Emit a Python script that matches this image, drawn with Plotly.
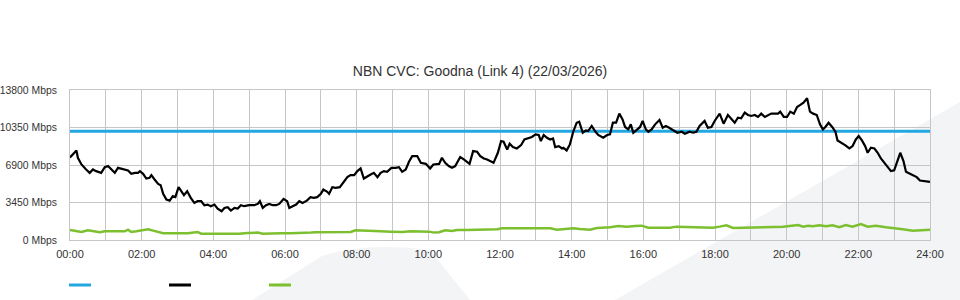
import plotly.graph_objects as go

# ---- data ----
title_text = "NBN CVC: Goodna (Link 4) (22/03/2026)"
y_tick_vals = [0, 3450, 6900, 10350, 13800]
y_tick_text = ["0 Mbps", "3450 Mbps", "6900 Mbps", "10350 Mbps", "13800 Mbps"]
x_tick_vals = list(range(0, 25, 2))
x_tick_text = ["00:00", "02:00", "04:00", "06:00", "08:00", "10:00", "12:00",
               "14:00", "16:00", "18:00", "20:00", "22:00", "24:00"]

capacity_hours = [0, 24]
capacity_mbps = [10000, 10000]

traffic_hours = [
    0.00, 0.18, 0.22, 0.32, 0.45, 0.55, 0.64, 0.73, 0.87, 0.97, 1.06, 1.15, 1.25, 1.34,
    1.48, 1.62, 1.71, 1.81, 1.90, 1.95, 2.04, 2.13, 2.22, 2.27, 2.36, 2.46, 2.53, 2.60,
    2.69, 2.78, 2.87, 2.94, 3.03, 3.11, 3.18, 3.27, 3.37, 3.47, 3.56, 3.66, 3.75, 3.84,
    3.93, 4.03, 4.12, 4.23, 4.31, 4.40, 4.49, 4.59, 4.68, 4.77, 4.86, 5.00, 5.14, 5.24,
    5.30, 5.38, 5.47, 5.56, 5.66, 5.75, 5.84, 5.96, 6.06, 6.12, 6.21, 6.31, 6.40, 6.49,
    6.61, 6.71, 6.80, 6.90, 7.00, 7.07, 7.18, 7.23, 7.32, 7.41, 7.53, 7.65, 7.74, 7.83,
    7.93, 8.02, 8.11, 8.20, 8.30, 8.39, 8.48, 8.58, 8.67, 8.76, 8.85, 8.97, 9.09, 9.18,
    9.27, 9.37, 9.46, 9.55, 9.69, 9.79, 9.93, 10.05, 10.14, 10.23, 10.30, 10.38, 10.47,
    10.57, 10.66, 10.75, 10.89, 10.99, 11.10, 11.15, 11.25, 11.36, 11.45, 11.55, 11.64,
    11.73, 11.82, 11.94, 12.03, 12.10, 12.20, 12.27, 12.36, 12.47, 12.59, 12.68, 12.80,
    12.89, 12.99, 13.08, 13.14, 13.22, 13.31, 13.40, 13.48, 13.54, 13.64, 13.73, 13.77,
    13.86, 13.95, 14.05, 14.14, 14.21, 14.31, 14.40, 14.46, 14.56, 14.65, 14.74, 14.88,
    14.99, 15.07, 15.15, 15.24, 15.33, 15.42, 15.49, 15.58, 15.65, 15.72, 15.83, 15.91,
    15.98, 16.07, 16.14, 16.23, 16.33, 16.45, 16.54, 16.63, 16.72, 16.84, 16.95, 17.07,
    17.16, 17.29, 17.39, 17.48, 17.57, 17.71, 17.80, 17.90, 17.99, 18.13, 18.24, 18.36,
    18.45, 18.55, 18.64, 18.73, 18.83, 18.92, 19.01, 19.11, 19.20, 19.29, 19.39, 19.48,
    19.57, 19.67, 19.76, 19.82, 19.92, 20.01, 20.10, 20.20, 20.29, 20.38, 20.47, 20.57,
    20.65, 20.74, 20.84, 20.93, 21.01, 21.08, 21.17, 21.27, 21.36, 21.42, 21.54, 21.63,
    21.75, 21.84, 21.93, 22.01, 22.10, 22.19, 22.26, 22.35, 22.45, 22.54, 22.63, 22.72,
    22.82, 22.91, 23.00, 23.10, 23.17, 23.26, 23.33, 23.44, 23.54, 23.63, 23.72, 23.82,
    23.91, 24.00]
traffic_mbps = [
    7600, 8240, 7565, 6950, 6490, 6180, 6490, 6335, 6180, 6705, 6800, 6490, 6180, 6640,
    6490, 6400, 6090, 6180, 6180, 6335, 6090, 5655, 5720, 5965, 5565, 5165, 5045, 4245,
    3720, 3625, 4030, 3940, 4860, 4490, 4120, 4490, 3875, 3413, 3570, 3570, 3200, 3260,
    3110, 3260, 2890, 2645, 2950, 3015, 2705, 2950, 2890, 3200, 3110, 3200, 3200, 3320,
    3570, 2950, 3200, 3320, 3200, 3200, 3320, 3780, 3570, 2950, 3075, 3260, 3570, 3413,
    3625, 3940, 3875, 3940, 4245, 4640, 4430, 4245, 4860, 4800, 4860, 5350, 5785, 5965,
    5965, 6335, 6580, 5655, 5875, 6025, 6180, 5785, 6180, 6335, 6270, 6640, 6640, 6705,
    6270, 6490, 7195, 7720, 7720, 7100, 7010, 6580, 6950, 6950, 7000, 7565, 7100,
    6800, 6640, 6800, 7630, 7410, 7100, 7000, 8180, 8120, 7720, 7500, 7410,
    7260, 7100, 8025, 9105, 9040, 8330, 8855, 8550, 8420, 8735, 9250, 9410,
    9475, 9715, 9660, 9105, 9660, 9410, 9250, 9345, 8550, 8640, 8420, 8490,
    8240, 8795, 10025, 10790, 10885, 9870, 10085, 10025, 10490, 10025, 9660, 9410,
    9660, 9715, 10790, 10790, 11625, 11100, 10400, 10175, 10640, 9870, 10175, 10400,
    10950, 10175, 9960, 10175, 10640, 11040, 10330, 10490, 10330, 10085, 9870, 9960,
    9780, 9960, 9870, 9960, 10490, 10950, 10330, 10400, 10950, 11625, 10700, 11500,
    11190, 10790, 11255, 11190, 11715, 11500, 11410, 11500, 11320, 11625, 11320, 11500,
    11625, 11625, 11625, 11810, 11320, 11320, 11810, 11625, 12240, 12425, 12640, 13035,
    11810, 11625, 11500, 10640, 10175, 10400, 10790, 10400, 9960, 9160, 8950, 8735,
    8420, 8640, 9250, 9565, 9160, 8640, 8025, 8490, 8420, 8025, 7500, 7100,
    6640, 6335, 6400, 7315, 8025, 7260, 6270, 6090, 5965, 5785, 5470, 5410,
    5410, 5350]

upload_hours = [
    0.00, 0.13, 0.32, 0.50, 0.69, 0.83, 0.97, 1.15, 1.34, 1.53, 1.62, 1.71, 1.85, 1.99,
    2.18, 2.32, 2.46, 2.60, 2.73, 3.01, 3.29, 3.56, 3.66, 3.93, 4.21, 4.40, 4.59, 4.72,
    4.96, 5.24, 5.38, 5.61, 5.89, 6.17, 6.35, 6.54, 6.73, 6.87, 7.09, 7.37, 7.65, 7.83,
    7.97, 8.11, 8.39, 8.67, 8.95, 9.18, 9.27, 9.51, 9.79, 10.02, 10.16, 10.30, 10.38,
    10.47, 10.66, 10.80, 11.08, 11.36, 11.64, 11.92, 12.06, 12.38, 12.66, 12.94, 13.08,
    13.40, 13.59, 13.81, 14.05, 14.23, 14.51, 14.70, 14.93, 15.07, 15.30, 15.54, 15.77,
    15.95, 16.14, 16.47, 16.74, 16.93, 17.16, 17.39, 17.66, 17.94, 18.13, 18.32, 18.50,
    18.78, 19.06, 19.34, 19.62, 19.90, 20.08, 20.32, 20.46, 20.60, 20.73, 20.91, 21.10,
    21.28, 21.47, 21.65, 21.84, 22.07, 22.26, 22.49, 22.77, 23.00, 23.24, 23.52, 23.75,
    24.00]
upload_mbps = [
    920, 860, 740, 890, 800, 710, 800, 800, 800, 800, 950, 740, 800, 860,
    985, 860, 740, 615, 615, 615, 615, 740, 585, 585, 585, 555, 555, 585,
    645, 680, 585, 615, 615, 615, 615, 680, 680, 710, 710, 740, 710, 740,
    890, 860, 800, 800, 770, 710, 740, 800, 800, 770, 680, 710, 800,
    890, 830, 920, 920, 950, 985, 985, 1075, 1075, 1015, 1015, 1075,
    1075, 950, 985, 1075, 1015, 950, 1105, 1105, 1170, 1290, 1230, 1290,
    1320, 1135, 1105, 1135, 1230, 1200, 1170, 1170, 1135, 1230, 1355, 1105,
    1135, 1105, 1170, 1230, 1230, 1290, 1385, 1230, 1320, 1260, 1355, 1260,
    1355, 1170, 1385, 1230, 1475, 1230, 1320, 1170, 1105, 985, 860, 920,
    950]

# ---- styling ----
BLUE = "#22a7e0"
BLACK = "#000000"
GREEN = "#7cbf2f"
GRID = "#c6c6c6"
TEXT = "#333333"
FONT = "Liberation Sans, Arial, sans-serif"

W, H = 960, 300
ML, MR, MT, MB = 70, 30, 90, 60
PW, PH = W - ML - MR, H - MT - MB


def px_to_paper(px, py):
    return (px - ML) / PW, (H - MB - py) / PH


fig = go.Figure()
fig.add_trace(go.Scatter(x=capacity_hours, y=capacity_mbps, mode="lines",
                         line=dict(color=BLUE, width=3), hoverinfo="skip"))
fig.add_trace(go.Scatter(x=upload_hours, y=upload_mbps, mode="lines",
                         line=dict(color=GREEN, width=2.5)))
fig.add_trace(go.Scatter(x=traffic_hours, y=traffic_mbps, mode="lines",
                         line=dict(color=BLACK, width=2.2)))

shapes = []
# faint watermark shapes in the background
x0, y0 = px_to_paper(615, 300)
x1, y1 = px_to_paper(960, 102)
x2, y2 = px_to_paper(960, 300)
shapes.append(dict(type="path", xref="paper", yref="paper", layer="below",
                   path=f"M {x0},{y0} L {x1},{y1} L {x2},{y2} Z",
                   fillcolor="#f3f4f6", line=dict(width=0)))
a = px_to_paper(252, 300)
b = px_to_paper(322, 256)
c = px_to_paper(365, 242)
d = px_to_paper(430, 250)
e = px_to_paper(470, 300)
shapes.append(dict(type="path", xref="paper", yref="paper", layer="below",
                   path=f"M {a[0]},{a[1]} L {b[0]},{b[1]} Q {c[0]},{c[1]} {d[0]},{d[1]} L {e[0]},{e[1]} Z",
                   fillcolor="#f3f4f6", line=dict(width=0)))
# legend swatches (no labels in the reference)
for colr, lx in [(BLUE, 69), (BLACK, 169), (GREEN, 269)]:
    sx0, sy = px_to_paper(lx, 285)
    sx1, _ = px_to_paper(lx + 22, 285)
    shapes.append(dict(type="line", xref="paper", yref="paper",
                       x0=sx0, x1=sx1, y0=sy, y1=sy,
                       line=dict(color=colr, width=3)))

fig.update_layout(
    width=W, height=H,
    margin=dict(l=ML, r=MR, t=MT, b=MB, pad=0, autoexpand=False),
    paper_bgcolor="white",
    plot_bgcolor="rgba(0,0,0,0)",
    showlegend=False,
    font=dict(family=FONT, size=11, color=TEXT),
    title=dict(text=title_text, x=0.5, xanchor="center", y=1 - 71 / H,
               yanchor="middle", yref="container",
               font=dict(family=FONT, size=14, color=TEXT)),
    shapes=shapes,
    xaxis=dict(range=[0, 24], tickvals=x_tick_vals, ticktext=x_tick_text,
               showgrid=True, gridcolor=GRID, gridwidth=1,
               minor=dict(dtick=1, showgrid=True, gridcolor=GRID, gridwidth=1),
               showline=True, linecolor=GRID, mirror=True, zeroline=False,
               ticks="", ticklabelstandoff=4, fixedrange=True, automargin=False),
    yaxis=dict(range=[0, 13800], tickvals=y_tick_vals, ticktext=y_tick_text,
               tickfont=dict(family=FONT, size=10.4, color=TEXT),
               showgrid=True, gridcolor=GRID, gridwidth=1,
               showline=True, linecolor=GRID, mirror=True, zeroline=False,
               ticks="", ticklabelstandoff=10, fixedrange=True, automargin=False),
)

fig.write_html("out.html")
